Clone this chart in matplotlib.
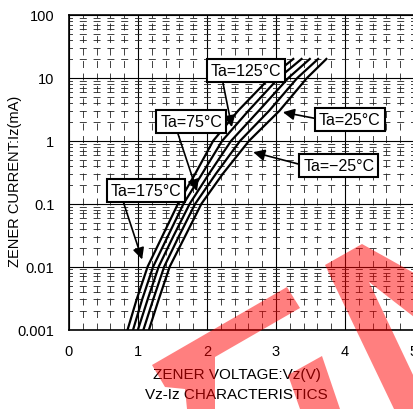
import matplotlib.pyplot as plt
from matplotlib.patches import Polygon
from matplotlib.ticker import FixedLocator, NullFormatter

plt.rcParams['font.family'] = ['Liberation Sans', 'DejaVu Sans']
plt.rcParams['lines.scale_dashes'] = False

# Zener current points (mA) and the voltage read for each temperature curve
iz = [0.001, 0.003, 0.01, 0.03, 0.1, 0.3, 1, 3, 10, 20]
vz_175 = [0.85, 0.98, 1.14, 1.35, 1.58, 1.83, 2.09, 2.45, 2.91, 3.25]
vz_125 = [0.93, 1.06, 1.22, 1.43, 1.66, 1.93, 2.22, 2.60, 3.04, 3.37]
vz_75 = [1.00, 1.14, 1.30, 1.51, 1.75, 2.03, 2.35, 2.75, 3.18, 3.49]
vz_25 = [1.08, 1.22, 1.38, 1.59, 1.83, 2.13, 2.48, 2.90, 3.31, 3.61]
vz_m25 = [1.16, 1.30, 1.46, 1.68, 1.92, 2.23, 2.61, 3.05, 3.45, 3.73]

x_ticks = [0, 1, 2, 3, 4, 5]
y_ticks = [0.001, 0.01, 0.1, 1, 10, 100]
y_labels = ['0.001', '0.01', '0.1', '1', '10', '100']

# callouts: text, label centre (V, mA), arrow tip (V, mA), arrow start on box
callouts = [
    ('Ta=125°C', (2.565, 13.1), (2.36, 1.65), (0.16, 0.0)),
    ('Ta=75°C', (1.77, 2.05), (1.855, 0.158), (0.26, 0.0)),
    ('Ta=25°C', (4.07, 2.21), (3.10, 2.85), (0.0, 0.5)),
    ('Ta=−25°C', (3.91, 0.408), (2.67, 0.66), (0.0, 0.5)),
    ('Ta=175°C', (1.116, 0.163), (1.06, 0.013), (0.16, 0.0)),
]

W, H = 414, 410
fig = plt.figure(figsize=(W / 100, H / 100), dpi=100)
ax = fig.add_axes([69 / W, 1 - 330.5 / H, 345 / W, 314.5 / H])

ax.set_xlim(0, 5)
ax.set_yscale('log')
ax.set_ylim(0.001, 100)
ax.set_xticks(x_ticks)
ax.set_xticklabels([str(t) for t in x_ticks])
ax.set_yticks(y_ticks)
ax.set_yticklabels(y_labels)
ax.xaxis.set_minor_locator(FixedLocator([i * 0.2 for i in range(26) if i % 5]))
ax.yaxis.set_minor_locator(FixedLocator([m * 10.0 ** e for e in range(-3, 2) for m in range(2, 10)]))
ax.yaxis.set_minor_formatter(NullFormatter())
ax.tick_params(which='both', length=0)
ax.tick_params(axis='both', labelsize=10.5, pad=10.5)
for s in ax.spines.values():
    s.set_linewidth(1.2)

# grid: solid decades / volts, dashed minor lines
ax.grid(which='major', color='black', lw=0.8)
step_pt = 345 / 25 * 0.72
on = 7 * 0.72
ax.grid(which='minor', axis='y', color='#222222', lw=0.6,
        linestyle=(on / 2, (on, step_pt - on)))
ax.grid(which='minor', axis='x', color='#222222', lw=0.6,
        linestyle=(0, (5.0, 4.0)))
ax.set_axisbelow(True)

for vz in [vz_175, vz_125, vz_75, vz_25, vz_m25]:
    ax.plot(vz, iz, color='black', lw=1.6, zorder=3)

for text, pos, tip, rel in callouts:
    ax.annotate(text, xy=tip, xytext=pos, ha='center', va='center',
                fontsize=11.5, zorder=5,
                bbox=dict(boxstyle='square,pad=0.25', fc='white', ec='black', lw=1.5),
                arrowprops=dict(arrowstyle='-|>', color='black', lw=1.2,
                                mutation_scale=17, shrinkA=0, shrinkB=0,
                                relpos=rel))

fig.text(0.5 * (69 + 414) / W - 0.01, 1 - 375 / H, 'ZENER VOLTAGE:Vz(V)',
         ha='center', va='center', fontsize=11)
fig.text(0.5 * (69 + 414) / W - 0.012, 1 - 395 / H, 'Vz-Iz CHARACTERISTICS',
         ha='center', va='center', fontsize=11)
fig.text(15 / W, 1 - 181 / H, 'ZENER CURRENT:Iz(mA)', rotation=90,
         ha='center', va='center', fontsize=10.5)

# red watermark strokes laid over the chart
marks = [
    [(152, 366), (287, 288), (300, 309), (215, 358), (215, 410), (187, 410), (185, 390), (165, 388)],
    [(288, 376), (322, 357), (340, 410), (300, 410)],
    [(325, 266), (362, 245), (414, 274), (414, 318), (369, 283), (414, 378), (414, 410), (394, 410)],
]
for pts in marks:
    fig.patches.append(Polygon([(x / W, 1 - y / H) for x, y in pts], closed=True,
                               transform=fig.transFigure, fc='red', ec='none',
                               alpha=0.5, zorder=10))

fig.savefig('out.png', dpi=100)
